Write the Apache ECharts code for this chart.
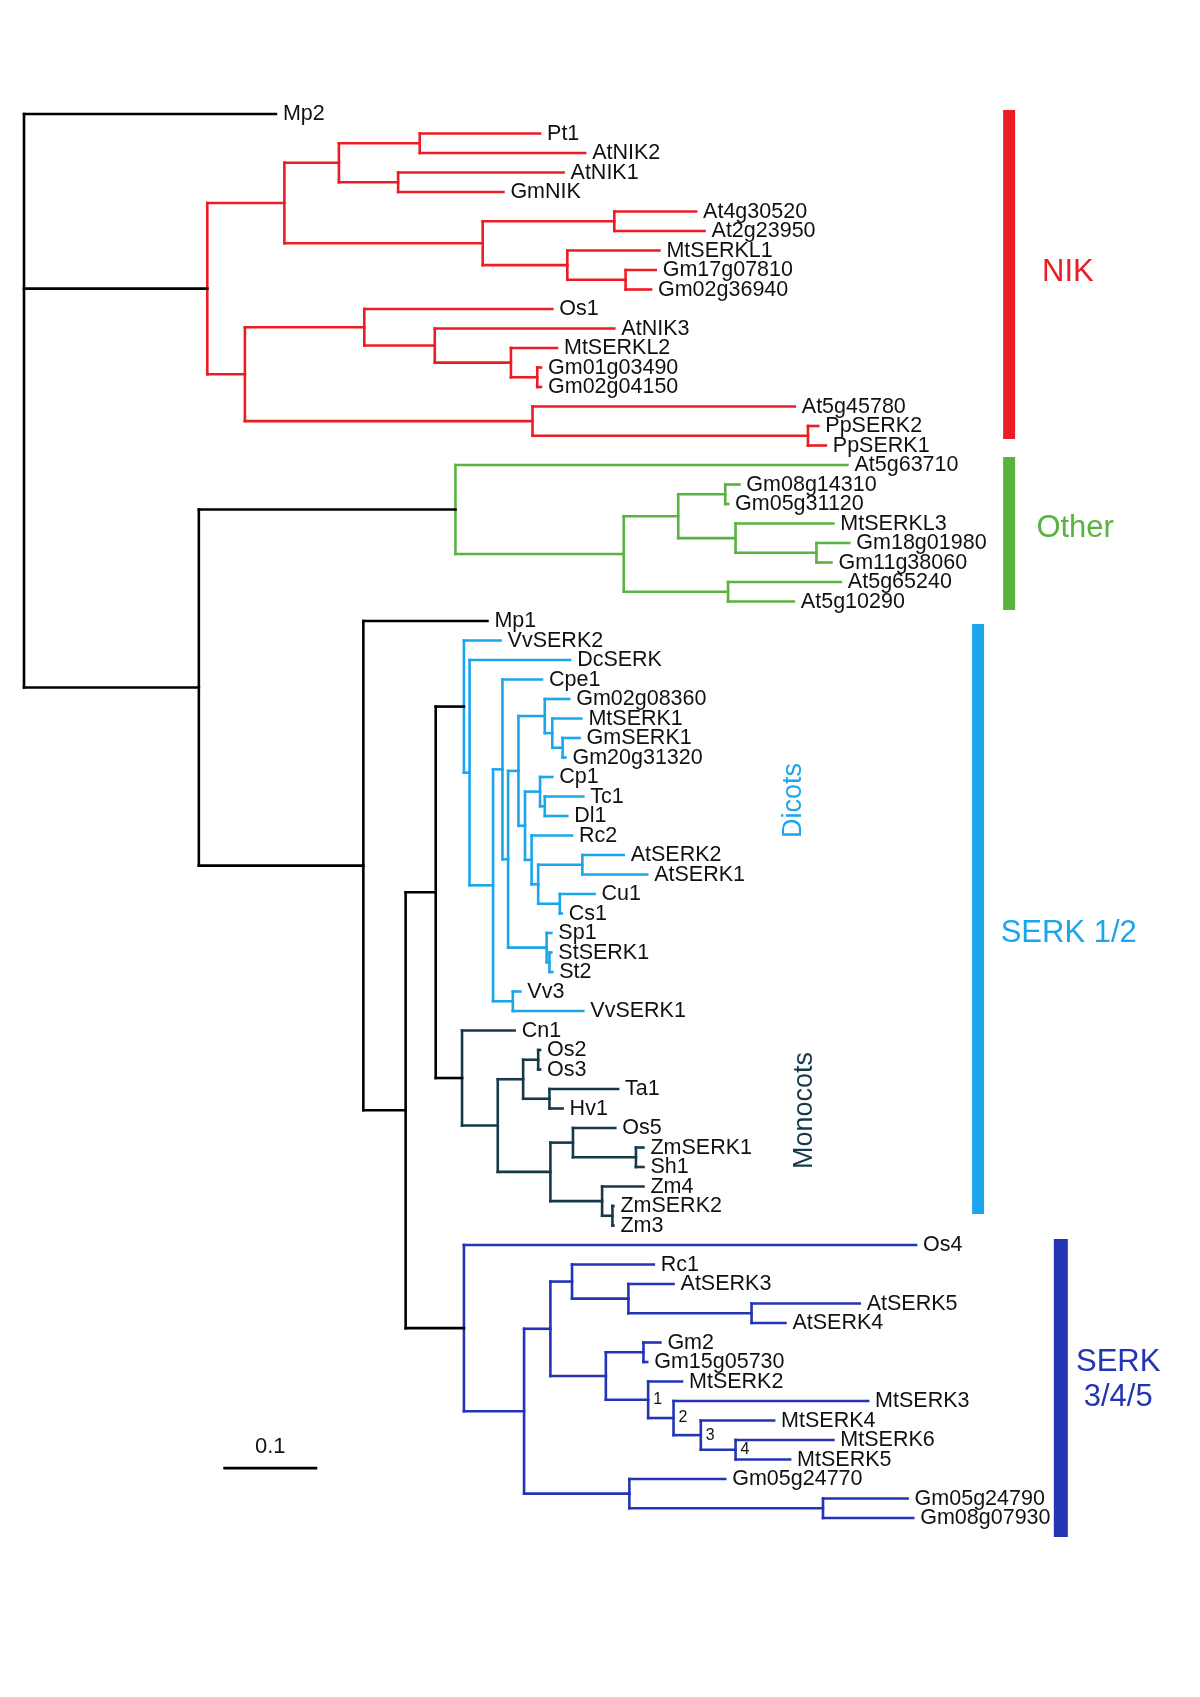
<!DOCTYPE html>
<html><head><meta charset="utf-8">
<script src="https://cdn.jsdelivr.net/npm/echarts@6/dist/echarts.min.js"></script>
<style>html,body{margin:0;padding:0;background:#fff}#c{width:1200px;height:1697px}</style>
</head><body><div id="c"></div>
<script>
// ---------- DATA (node depth = distance from root) ----------
// leaf: [name, tipDepth]; internal node: {d: depth, c: children, clade?, lab?}
const nikClade = {clade:'NIK', d:0.195, c:[
  {d:0.277, c:[
    {d:0.335, c:[
      {d:0.421, c:[['Pt1',0.549],['AtNIK2',0.597]]},
      {d:0.398, c:[['AtNIK1',0.574],['GmNIK',0.510]]}]},
    {d:0.488, c:[
      {d:0.628, c:[['At4g30520',0.715],['At2g23950',0.724]]},
      {d:0.578, c:[['MtSERKL1',0.676],{d:0.640, c:[['Gm17g07810',0.672],['Gm02g36940',0.667]]}]}]}]},
  {d:0.235, c:[
    {d:0.362, c:[['Os1',0.562],
      {d:0.437, c:[['AtNIK3',0.628],
        {d:0.518, c:[['MtSERKL2',0.567],{d:0.546, c:[['Gm01g03490',0.550],['Gm02g04150',0.550]]}]}]}]},
    {d:0.541, c:[['At5g45780',0.820],{d:0.834, c:[['PpSERK2',0.845],['PpSERK1',0.853]]}]}]}]};

const otherClade = {clade:'Other', d:0.459, c:[
  ['At5g63710',0.876],
  {d:0.638, c:[
    {d:0.696, c:[
      {d:0.746, c:[['Gm08g14310',0.761],['Gm05g31120',0.749]]},
      {d:0.757, c:[['MtSERKL3',0.861],{d:0.843, c:[['Gm18g01980',0.878],['Gm11g38060',0.859]]}]}]},
    {d:0.749, c:[['At5g65240',0.869],['At5g10290',0.819]]}]}]};

const dicots = {clade:'Dicots', d:0.468, c:[
  ['VvSERK2',0.507],
  {d:0.474, c:[
    ['DcSERK',0.581],
    {d:0.499, c:[
      {d:0.509, c:[
        ['Cpe1',0.551],
        {d:0.515, c:[
          {d:0.526, c:[
            {d:0.554, c:[['Gm02g08360',0.580],{d:0.562, c:[['MtSERK1',0.593],{d:0.573, c:[['GmSERK1',0.591],['Gm20g31320',0.576]]}]}]},
            {d:0.533, c:[
              {d:0.549, c:[['Cp1',0.562],{d:0.554, c:[['Tc1',0.595],['Dl1',0.578]]}]},
              {d:0.540, c:[['Rc2',0.583],{d:0.547, c:[
                {d:0.594, c:[['AtSERK2',0.638],['AtSERK1',0.663]]},
                {d:0.570, c:[['Cu1',0.607],['Cs1',0.572]]}]}]}]}]},
          {d:0.556, c:[['Sp1',0.561],{d:0.559, c:[['StSERK1',0.561],['St2',0.562]]}]}]}]},
      {d:0.520, c:[['Vv3',0.528],['VvSERK1',0.595]]}]}]}]};

const monocots = {clade:'Monocots', d:0.466, c:[
  ['Cn1',0.522],
  {d:0.504, c:[
    {d:0.531, c:[{d:0.547, c:[['Os2',0.549],['Os3',0.549]]},{d:0.559, c:[['Ta1',0.632],['Hv1',0.573]]}]},
    {d:0.560, c:[
      {d:0.584, c:[['Os5',0.629],{d:0.651, c:[['ZmSERK1',0.659],['Sh1',0.659]]}]},
      {d:0.615, c:[['Zm4',0.659],{d:0.626, c:[['ZmSERK2',0.627],['Zm3',0.627]]}]}]}]}]};

const serk345 = {clade:'SERK345', d:0.468, c:[
  ['Os4',0.949],
  {d:0.532, c:[
    {d:0.560, c:[
      {d:0.583, c:[['Rc1',0.670],{d:0.643, c:[['AtSERK3',0.691],{d:0.774, c:[['AtSERK5',0.889],['AtSERK4',0.810]]}]}]},
      {d:0.619, c:[
        {d:0.659, c:[['Gm2',0.677],['Gm15g05730',0.663]]},
        {d:0.664, lab:'1', c:[['MtSERK2',0.700],{d:0.691, lab:'2', c:[['MtSERK3',0.898],{d:0.720, lab:'3', c:[['MtSERK4',0.798],{d:0.757, lab:'4', c:[['MtSERK6',0.861],['MtSERK5',0.815]]}]}]}]}]}]},
    {d:0.644, c:[['Gm05g24770',0.746],{d:0.850, c:[['Gm05g24790',0.940],['Gm08g07930',0.946]]}]}]}]};

const tree = {clade:'root', d:0, c:[
  ['Mp2',0.268],
  nikClade,
  {d:0.186, c:[
    otherClade,
    {d:0.361, c:[
      ['Mp1',0.493],
      {d:0.406, c:[
        {d:0.438, c:[dicots, monocots]},
        serk345]}]}]}]};

const cladeNames = ['NIK', 'Other', 'SERK 1/2', 'SERK\n3/4/5'];
const groupNames = ['Dicots', 'Monocots'];
const scaleBarValue = 0.1;
const scaleBarLabel = '0.1';

// ---------- STYLE / LAYOUT ----------
const colors = {root:'#000000', NIK:'#ec1c24', Other:'#5ab33e', Dicots:'#1ba6ec', Monocots:'#17394a', SERK345:'#2334b5'};
const FONT = '"Liberation Sans", Arial, Helvetica, sans-serif';
// clade bars: x in distance units, y span in leaf rows
const cladeLayout = [
  {bx:1.048, bw:12, y0:-0.2, y1:16.67, tx:1.083, ty:8.15, align:'left', col:colors.NIK},
  {bx:1.048, bw:12, y0:17.59, y1:25.44, tx:1.077, ty:21.23, align:'left', col:colors.Other},
  {bx:1.015, bw:12, y0:26.15, y1:56.41, tx:1.039, ty:42.0, align:'left', col:colors.Dicots},
  {bx:1.103, bw:14, y0:57.69, y1:72.97, tx:1.164, ty:64.9, align:'center', col:colors.SERK345}
];
const groupLayout = [
  {x:0.819, y:35.2, col:colors.Dicots},
  {x:0.830, y:51.1, col:colors.Monocots}
];
const scaleLayout = {x:0.212, y:69.44, labelDy:-21};

// ---------- LAYOUT OF THE TREE ----------
let leafRow = 0;
const leaves = [], segs = [], nodeLabels = [];
function layout(n, col) {
  if (Array.isArray(n)) { const y = leafRow++; leaves.push({name:n[0], d:n[1], y}); return {d:n[1], y}; }
  const c = n.clade || col;
  const kids = n.c.map(ch => layout(ch, c));
  const y = (kids[0].y + kids[kids.length - 1].y) / 2;
  segs.push({x1:n.d, y1:kids[0].y, x2:n.d, y2:kids[kids.length - 1].y, c});
  kids.forEach(k => segs.push({x1:n.d, y1:k.y, x2:k.d, y2:k.y, c}));
  if (n.lab) nodeLabels.push({d:n.d, y, t:n.lab});
  return {d:n.d, y};
}
layout(tree, 'root');

const chart = echarts.init(document.getElementById('c'), null, {renderer:'canvas'});
const PXU = 940, ROW = 19.5;
chart.setOption({
  animation:false,
  backgroundColor:'#ffffff',
  grid:{left:24, top:114 - 5 * ROW, width:1.2 * PXU, height:81 * ROW},
  xAxis:{type:'value', min:0, max:1.2, show:false},
  yAxis:{type:'value', min:-5, max:76, inverse:true, show:false},
  series:[
    {type:'custom', clip:false, data:segs.map(s => [s.x1, s.y1, s.x2, s.y2]),
     renderItem:(p, api) => {
       const s = segs[p.dataIndex];
       const a = api.coord([s.x1, s.y1]), b = api.coord([s.x2, s.y2]);
       return {type:'line', shape:{x1:a[0], y1:a[1], x2:b[0], y2:b[1]},
               style:{stroke:colors[s.c], lineWidth:2.6, lineCap:'square'}};
     }},
    {type:'custom', clip:false, data:leaves.map(l => [l.d, l.y]),
     renderItem:(p, api) => {
       const l = leaves[p.dataIndex];
       const a = api.coord([l.d, l.y]);
       return {type:'text', x:a[0] + 7, y:a[1] + 0.5,
               style:{text:l.name, fill:'#111', fontSize:21.5, fontFamily:FONT, align:'left', verticalAlign:'middle'}};
     }},
    {type:'custom', clip:false, data:nodeLabels.map(l => [l.d, l.y]),
     renderItem:(p, api) => {
       const l = nodeLabels[p.dataIndex];
       const a = api.coord([l.d, l.y]);
       return {type:'text', x:a[0] + 5, y:a[1],
               style:{text:l.t, fill:'#111', fontSize:16, fontFamily:FONT, align:'left', verticalAlign:'middle'}};
     }},
    {type:'custom', clip:false, data:cladeLayout.map(c => [c.bx, c.y0, c.y1]),
     renderItem:(p, api) => {
       const c = cladeLayout[p.dataIndex];
       const a = api.coord([c.bx, c.y0]), b = api.coord([c.bx, c.y1]);
       const t = api.coord([c.tx, c.ty]);
       return {type:'group', children:[
         {type:'rect', shape:{x:a[0] - c.bw / 2, y:a[1], width:c.bw, height:b[1] - a[1]}, style:{fill:c.col}},
         {type:'text', x:t[0], y:t[1], style:{text:cladeNames[p.dataIndex], fill:c.col, fontSize:31,
           fontFamily:FONT, align:c.align, verticalAlign:'middle', lineHeight:35}}
       ]};
     }},
    {type:'custom', clip:false, data:groupLayout.map(g => [g.x, g.y]),
     renderItem:(p, api) => {
       const g = groupLayout[p.dataIndex];
       const a = api.coord([g.x, g.y]);
       return {type:'text', x:a[0], y:a[1], rotation:Math.PI / 2,
               style:{text:groupNames[p.dataIndex], fill:g.col, fontSize:27, fontFamily:FONT, align:'center', verticalAlign:'middle'}};
     }},
    {type:'custom', clip:false, data:[[scaleLayout.x, scaleLayout.y, scaleBarValue]],
     renderItem:(p, api) => {
       const a = api.coord([scaleLayout.x, scaleLayout.y]);
       const b = api.coord([scaleLayout.x + scaleBarValue, scaleLayout.y]);
       return {type:'group', children:[
         {type:'line', shape:{x1:a[0], y1:a[1], x2:b[0], y2:b[1]}, style:{stroke:'#000', lineWidth:2.6}},
         {type:'text', x:(a[0] + b[0]) / 2, y:a[1] + scaleLayout.labelDy,
          style:{text:scaleBarLabel, fill:'#111', fontSize:22, fontFamily:FONT, align:'center', verticalAlign:'middle'}}
       ]};
     }}
  ]
});
</script></body></html>
